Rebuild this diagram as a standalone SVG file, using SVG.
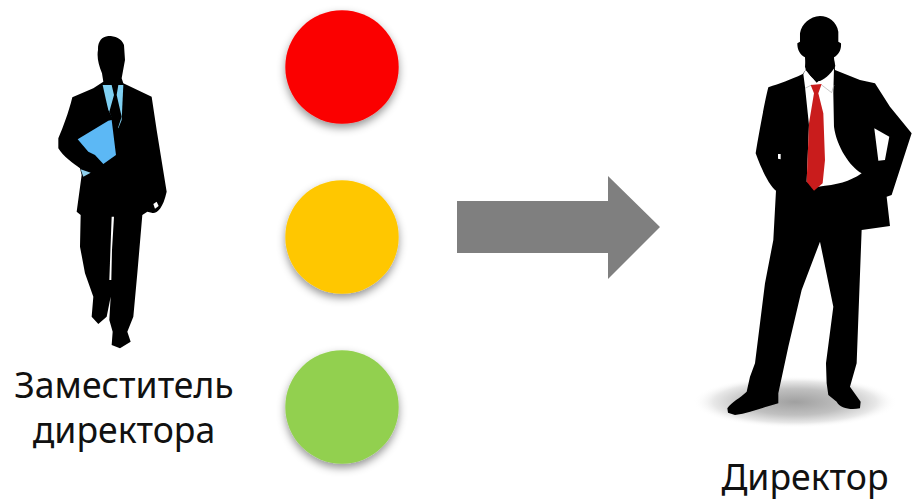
<svg xmlns="http://www.w3.org/2000/svg" width="913" height="499" viewBox="0 0 913 499">
<style>
.t{font-family:"Noto Sans","DejaVu Sans",sans-serif;font-size:35.6px;fill:#111;text-anchor:middle}
.k{fill:#000}
.c{filter:url(#ds)}
</style>
<defs>
<filter id="ds" x="-20%" y="-20%" width="140%" height="150%"><feDropShadow dx="0" dy="4" stdDeviation="4.5" flood-color="#000" flood-opacity=".42"/></filter>
<filter id="b"><feGaussianBlur stdDeviation="1.6"/></filter>
<filter id="b2"><feGaussianBlur stdDeviation=".8"/></filter>
<radialGradient id="sh"><stop offset="0" stop-color="#a0a0a0"/><stop offset=".5" stop-color="#c0c0c0"/><stop offset=".8" stop-color="#e8e8e8"/><stop offset="1" stop-color="#fff" stop-opacity="0"/></radialGradient>
</defs>
<rect width="913" height="499" fill="#fff"/>
<g id="deputy" transform="translate(40 20) scale(.3333)">
<g filter="url(#b)">
<path class="k" d="M205 48C185 50 173 65 174 90C170 112 176 135 186 160L190 185L160 205L97 232C85 280 70 320 55 355L55 385C70 410 100 430 120 445L125 465L110 575L122 585L120 680L135 760L160 830L155 890L175 912L200 890L212 830L208 900L218 935L215 975L240 985L272 965L262 935L280 890L292 760L307 585L322 575L335 578C348 582 368 570 380 515L350 330L335 230L250 190L245 175L255 120L252 75C245 55 225 48 205 48Z"/>
<path fill="#fff" d="M215 590L222 590L216 690L214 780L208 780Z"/>
<path fill="#fff" d="M340 552L350 545L356 558L345 566Z"/>
<path fill="#7fd0f2" d="M188 195L250 195L245 300L235 325L205 270L198 240Z"/>
<path class="k" d="M215 195L235 195L230 225L245 290L232 330L208 275L222 225Z"/>
<path fill="#5bb8f5" d="M113 358L205 302L215 300L228 405L190 432L165 405L145 395Z"/>
<path fill="#8fd0ee" d="M122 448L152 458L130 470Z"/>
</g>
</g>
<text class="t" x="124" y="398">Заместитель</text>
<text class="t" x="124" y="443">директора</text>
<g id="lights">
<circle id="red" class="c" cx="342" cy="67" r="56.7" fill="#fb0000"/>
<circle id="yellow" class="c" cx="342" cy="237" r="56.7" fill="#ffc705"/>
<circle id="green" class="c" cx="342" cy="407" r="56.7" fill="#92d050"/>
</g>
<g id="connectors">
<path fill="#7f7f7f" d="M457 201H608V176L660 227L608 279V253H457Z"/>
</g>
<g id="director">
<ellipse cx="795" cy="402" rx="102" ry="26" fill="url(#sh)"/>
<g transform="translate(690 0) scale(.3333)" filter="url(#b2)">
<path class="k" d="M390 48C360 50 335 70 330 100L330 125L322 130C322 150 330 165 345 172L347 210L338 222C300 240 270 250 235 262C225 300 205 410 197 460C215 510 240 560 258 572L250 720L225 850L195 1090L180 1130L170 1175C150 1195 125 1205 112 1225L114 1238L135 1245C180 1240 225 1220 265 1210L265 1180L295 1040L335 870L390 725L430 920L408 1090L410 1150L415 1185L440 1205C450 1225 480 1230 510 1225L512 1205L480 1160L500 1090L515 690L600 678L590 590L605 585L665 400L600 320L555 250L510 240L435 210L432 172C445 165 455 150 453 130L445 125L445 95C440 65 415 48 390 48Z"/>
<path fill="#fff" d="M553 385L598 410L585 480L565 482Z"/>
<path fill="#fff" d="M264 462L272 462L272 478L264 476Z"/>
<path fill="#fff" d="M340 222L347 210L380 248L432 205L430 280L432 380C440 440 480 500 515 520C480 545 440 555 385 560L350 545L357 375L345 260Z"/>
<path fill="none" stroke="#aaa" stroke-width="2" d="M345 265L365 255M395 255L425 278L432 255"/>
<path fill="#c91c1c" d="M362 255L395 252L385 280L400 340L405 480L398 550L372 572L350 545L357 370L372 280Z"/>
<path class="k" d="M345 200C358 230 378 245 390 243C410 235 428 215 436 198L430 170L350 170Z"/>
</g>
</g>
<text class="t" x="805" y="490">Директор</text>
</svg>
